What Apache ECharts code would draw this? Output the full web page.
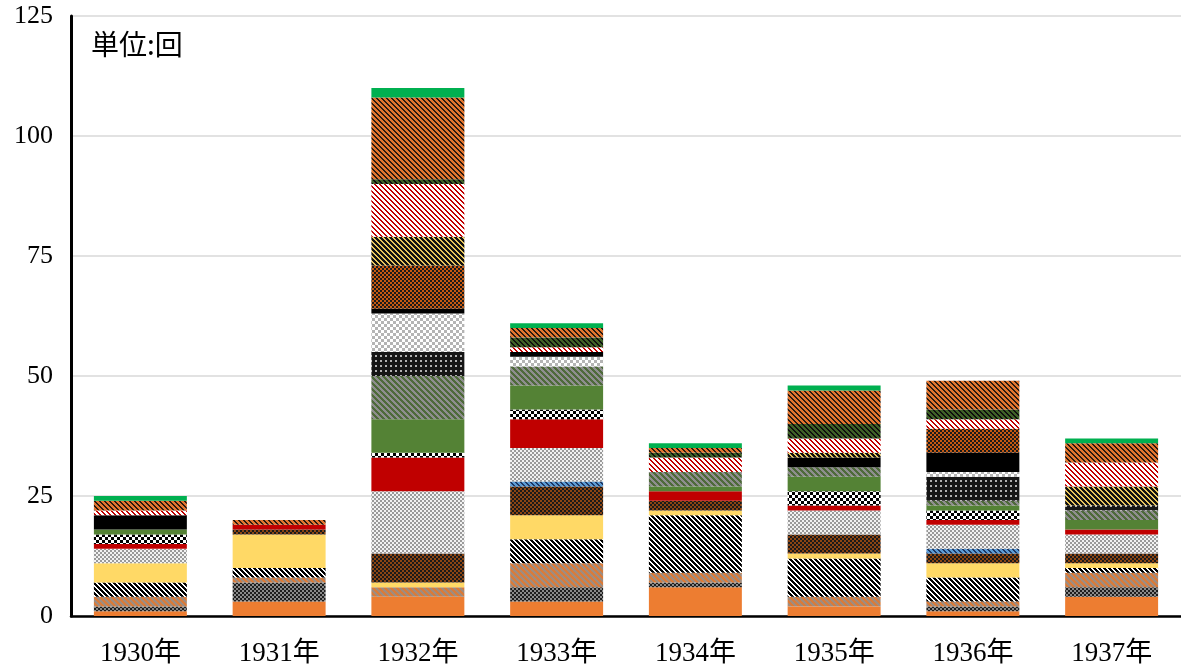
<!DOCTYPE html>
<html>
<head>
<meta charset="utf-8">
<script src="https://cdn.jsdelivr.net/npm/echarts@6/dist/echarts.min.js"></script>
<style>
  html, body { margin: 0; padding: 0; background: #fff; }
  #chart { width: 1181px; height: 670px; }
</style>
</head>
<body>
<div id="chart"></div>
<script>
// Years on the category axis
const years = ['1930年', '1931年', '1932年', '1933年', '1934年', '1935年', '1936年', '1937年'];
const yTicks = [0, 25, 50, 75, 100, 125];
const unitLabel = '単位:回';

// Counts per year, one array per stacked segment (bottom to top)
const sOrange        = [1, 3, 4, 3, 6, 2, 1, 4];
const sDarkDots      = [1, 4, 0, 3, 1, 0, 1, 2];
const sTanDiag       = [2, 1, 2, 5, 2, 2, 1, 3];
const sBlackDiag     = [3, 2, 0, 5, 12, 8, 5, 1];
const sYellow        = [4, 7, 1, 5, 1, 1, 3, 1];
const sBrownDots     = [0, 1, 6, 6, 2, 4, 2, 2];
const sBlueDiag      = [0, 0, 0, 1, 0, 0, 1, 0];
const sGrayFine      = [3, 0, 13, 7, 0, 5, 5, 4];
const sRed           = [1, 1, 7, 6, 2, 1, 1, 1];
const sCheckerBW     = [2, 0, 1, 2, 0, 3, 2, 0];
const sGreen         = [1, 0, 7, 5, 1, 3, 1, 2];
const sGrayGreenDiag = [0, 0, 9, 4, 3, 2, 1, 2];
const sPlaid         = [0, 0, 5, 0, 0, 0, 5, 1];
const sGrayChecker   = [0, 0, 8, 2, 0, 0, 1, 0];
const sBlack         = [3, 0, 1, 1, 0, 2, 4, 0];
const sOrangeChecker = [0, 0, 9, 0, 0, 0, 5, 0];
const sYellowDiag    = [0, 0, 6, 0, 0, 1, 0, 4];
const sRedWhiteDiag  = [1, 0, 11, 1, 3, 3, 2, 5];
const sDarkGreenDiag = [0, 0, 1, 2, 1, 3, 2, 0];
const sOrangeDiag    = [2, 1, 17, 2, 1, 7, 6, 4];
const sBrightGreen   = [1, 0, 2, 1, 1, 1, 0, 1];

// ---- pixel tile helpers for patterned fills ----
function hex(c) {
  const n = parseInt(c.slice(1), 16);
  return [(n >> 16) & 255, (n >> 8) & 255, n & 255];
}
function tile(w, h, pick) {
  const cv = document.createElement('canvas');
  cv.width = w; cv.height = h;
  const ctx = cv.getContext('2d');
  const img = ctx.createImageData(w, h);
  for (let y = 0; y < h; y++) {
    for (let x = 0; x < w; x++) {
      const rgb = hex(pick(x, y));
      const i = (y * w + x) * 4;
      img.data[i] = rgb[0]; img.data[i + 1] = rgb[1]; img.data[i + 2] = rgb[2]; img.data[i + 3] = 255;
    }
  }
  ctx.putImageData(img, 0, 0);
  return { image: cv, repeat: 'repeat' };
}
// downward diagonal stripes: colour a for `wa` px out of each `period`
function diag(a, b, period, wa) {
  return tile(period, period, (x, y) => (((x - y) % period + period) % period) < wa ? a : b);
}
function checker(a, b, s) {
  return tile(2 * s, 2 * s, (x, y) => ((Math.floor(x / s) + Math.floor(y / s)) % 2 === 0 ? a : b));
}
function grid(bg, dot, size, dotSize) {
  return tile(size, size, (x, y) => (x % size < dotSize && y % size < dotSize) ? dot : bg);
}

const fills = [
  '#ED7D31',
  checker('#8A8A8A', '#1E1E1E', 2),
  diag('#D97B3A', '#A08C7E', 6, 3),
  diag('#000000', '#FFFFFF', 5, 3),
  '#FFD966',
  checker('#8B4513', '#1A1A1A', 2),
  diag('#5B9BD5', '#1F3864', 5, 3),
  checker('#9A9A9A', '#F2F2F2', 2),
  '#C00000',
  checker('#000000', '#FFFFFF', 3),
  '#548235',
  diag('#4E6A3A', '#8E8E8E', 6, 3),
  grid('#151515', '#B0B0B0', 5, 2),
  checker('#B4B4B4', '#FFFFFF', 3),
  '#000000',
  checker('#C65911', '#1A1A1A', 2),
  diag('#E8C55C', '#111111', 5, 2),
  diag('#C00000', '#FFFFFF', 5, 2),
  diag('#3E6127', '#0E0E0E', 5, 3),
  diag('#E2752F', '#2A1A10', 5, 3),
  '#00B050'
];

const stackData = [
  sOrange, sDarkDots, sTanDiag, sBlackDiag, sYellow, sBrownDots, sBlueDiag,
  sGrayFine, sRed, sCheckerBW, sGreen, sGrayGreenDiag, sPlaid, sGrayChecker,
  sBlack, sOrangeChecker, sYellowDiag, sRedWhiteDiag, sDarkGreenDiag,
  sOrangeDiag, sBrightGreen
];

const series = stackData.map((d, i) => ({
  name: 'seg' + (i + 1),
  type: 'bar',
  stack: 'total',
  data: d,
  barCategoryGap: '33%',
  itemStyle: { color: fills[i] },
  emphasis: { disabled: true }
}));

const chart = echarts.init(document.getElementById('chart'), null, { renderer: 'canvas' });
chart.setOption({
  animation: false,
  backgroundColor: '#ffffff',
  grid: { left: 71, right: 0, top: 16, bottom: 54, containLabel: false },
  xAxis: {
    type: 'category',
    data: years,
    axisTick: { show: false },
    axisLine: { lineStyle: { color: '#000', width: 2.5 } },
    axisLabel: {
      color: '#000', fontFamily: 'Liberation Serif, Noto Sans CJK JP',
      fontSize: 27, margin: 24
    }
  },
  yAxis: {
    type: 'value',
    min: yTicks[0],
    max: yTicks[yTicks.length - 1],
    interval: yTicks[1] - yTicks[0],
    axisLine: { show: true, lineStyle: { color: '#000', width: 3 } },
    axisTick: { show: false },
    splitLine: { lineStyle: { color: '#D9D9D9', width: 1.5 } },
    axisLabel: {
      color: '#000', fontFamily: 'Liberation Serif', fontSize: 26, margin: 18
    }
  },
  graphic: [{
    type: 'text',
    left: 91,
    top: 30,
    style: {
      text: unitLabel,
      fill: '#000',
      font: '28px "Noto Sans CJK JP"'
    }
  }],
  series: series
});
</script>
</body>
</html>
